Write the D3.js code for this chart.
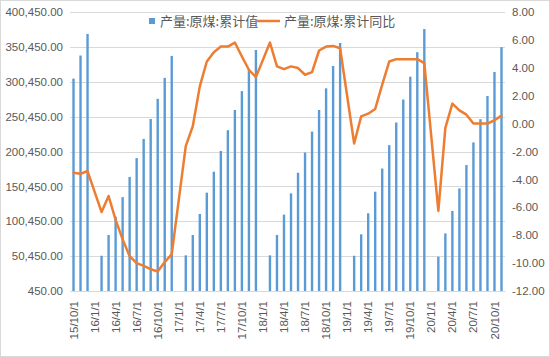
<!DOCTYPE html>
<html><head><meta charset="utf-8">
<script src="https://cdn.jsdelivr.net/npm/d3@7"></script>
<style>
html,body{margin:0;padding:0;background:#fff;}
svg{display:block;}
</style></head>
<body>
<svg id="chart" width="550" height="357"></svg>
<script>
// Months (year/month) from 2015-10 to 2020-11
const months = [];
for (let y = 2015; y <= 2020; y++) {
  for (let m = 1; m <= 12; m++) {
    if (y === 2015 && m < 10) continue;
    if (y === 2020 && m > 11) continue;
    months.push((y % 100) + "/" + m);
  }
}
// 产量:原煤:累计值 (万吨), January not published (null)
const production = [
  305000, 338000, 369000,
  null, 51000, 80700, 107000, 135000, 164000, 191000, 218500, 247000, 276000, 306000, 337500,
  null, 51600, 80700, 110900, 141400, 171500, 201200, 231000, 260000, 287000, 317000, 346000,
  null, 51600, 80800, 110000, 140500, 170000, 199000, 229000, 260000, 291000, 323000, 356000,
  null, 51000, 81700, 111900, 142800, 176000, 209600, 242000, 275000, 307700, 342800, 376000,
  null, 49600, 83000, 115300, 147500, 181000, 213500, 246800, 280000, 314500, 350000
];
// 产量:原煤:累计同比 (%)
const yoy = [
  -3.52, -3.60, -3.40,
  null, -6.34, -5.19, -6.90, -8.30, -9.50, -10.00, -10.20, -10.43, -10.60, -9.93, -9.36,
  null, -1.62, -0.19, 2.67, 4.45, 5.12, 5.52, 5.52, 5.81, 4.81, 3.86, 3.33,
  null, 5.81, 4.10, 3.90, 4.10, 3.98, 3.50, 3.69, 5.24, 5.52, 5.57, 5.40,
  null, -1.43, 0.52, 0.71, 1.05, 2.79, 4.45, 4.62, 4.62, 4.62, 4.62, 4.33,
  null, -6.26, -0.31, 1.43, 0.95, 0.64, 0.00, 0.00, 0.00, 0.24, 0.57
];
const leftTicks = d3.range(450, 400451, 50000);
const rightTicks = d3.range(-12, 8.001, 2);
const xTickLabels = months.filter((d, i) => i % 3 === 0);
const seriesNames = ["产量:原煤:累计值", "产量:原煤:累计同比"];

const svg = d3.select("#chart");
const W = 550, H = 357;
const plot = {left: 70, right: 505, top: 12, bottom: 291};
const textColor = "#595959";
const numFont = "'Liberation Sans', Arial, sans-serif";
const cjkFont = "'Noto Sans CJK SC', sans-serif";

// border
svg.append("rect").attr("x", 0.5).attr("y", 0.5).attr("width", W - 1).attr("height", H - 1)
  .attr("fill", "#fff").attr("stroke", "#d9d9d9");

const x = d3.scaleBand().domain(months).range([plot.left, plot.right])
  .paddingInner(0.66).paddingOuter(0.33);
const yL = d3.scaleLinear().domain([450, 400450]).range([plot.bottom, plot.top]);
const yR = d3.scaleLinear().domain([-12, 8]).range([plot.bottom, plot.top]);

// gridlines
svg.append("g").selectAll("line").data(leftTicks).join("line")
  .attr("x1", plot.left).attr("x2", plot.right)
  .attr("y1", d => Math.round(yL(d)) + 0.5).attr("y2", d => Math.round(yL(d)) + 0.5)
  .attr("stroke", "#d9d9d9").attr("stroke-width", 1);

// left axis
const gL = svg.append("g").attr("transform", `translate(${plot.left},0)`)
  .call(d3.axisLeft(yL).tickValues(leftTicks).tickSize(0).tickPadding(7)
    .tickFormat(d3.format(",.2f")));
gL.select(".domain").remove();
gL.selectAll("text").attr("fill", textColor).style("font-family", numFont).style("font-size", "11.5px");

// right axis
const gR = svg.append("g").attr("transform", `translate(${plot.right},0)`)
  .call(d3.axisRight(yR).tickValues(rightTicks).tickSize(0).tickPadding(7)
    .tickFormat(d => d.toFixed(2)));
gR.select(".domain").remove();
gR.selectAll("text").attr("fill", textColor).style("font-family", numFont).style("font-size", "11.5px");

// bars
const barData = months.map((m, i) => ({m, v: production[i]})).filter(d => d.v != null);
svg.append("g").selectAll("rect").data(barData).join("rect")
  .attr("x", d => x(d.m)).attr("width", x.bandwidth())
  .attr("y", d => yL(d.v)).attr("height", d => yL(450) - yL(d.v))
  .attr("fill", "#5b9bd5");

// x axis
const gX = svg.append("g").attr("transform", `translate(0,${plot.bottom})`)
  .call(d3.axisBottom(x).tickValues(xTickLabels).tickSize(0).tickFormat(d => d + "/1"));
gX.select(".domain").attr("stroke", "#d9d9d9");
gX.selectAll("text")
  .attr("fill", textColor).style("font-family", numFont).style("font-size", "11.5px")
  .attr("text-anchor", "end").attr("transform", "rotate(-90)")
  .attr("x", -10).attr("y", 0).attr("dy", "0.35em");

// line
const lineData = months.map((m, i) => ({m, v: yoy[i]})).filter(d => d.v != null);
const line = d3.line().x(d => x(d.m) + x.bandwidth() / 2).y(d => yR(d.v));
svg.append("path").datum(lineData).attr("d", line)
  .attr("fill", "none").attr("stroke", "#ed7d31").attr("stroke-width", 2.5)
  .attr("stroke-linejoin", "round").attr("stroke-linecap", "round");

// legend
const lg = svg.append("g");
lg.append("rect").attr("x", 149).attr("y", 18).attr("width", 6).attr("height", 6).attr("fill", "#5b9bd5");
lg.append("text").attr("x", 160).attr("y", 21).attr("dy", "0.35em").text(seriesNames[0])
  .attr("fill", textColor).style("font-family", cjkFont).style("font-size", "13px");
lg.append("line").attr("x1", 257).attr("x2", 280).attr("y1", 21).attr("y2", 21)
  .attr("stroke", "#ed7d31").attr("stroke-width", 2.5);
lg.append("text").attr("x", 284).attr("y", 21).attr("dy", "0.35em").text(seriesNames[1])
  .attr("fill", textColor).style("font-family", cjkFont).style("font-size", "13px");
</script>
</body></html>
